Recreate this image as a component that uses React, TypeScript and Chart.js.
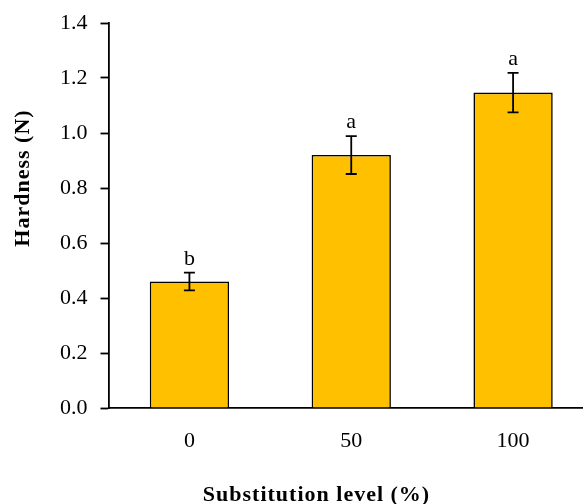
import React, { useEffect, useRef } from "react";
import { Chart, registerables } from "chart.js";

Chart.register(...registerables);

const categories = ["0", "50", "100"];
const hardness = [0.46, 0.92, 1.147];
const errors = [0.032, 0.069, 0.072];
const letters = ["b", "a", "a"];
const yMin = 0;
const yMax = 1.4;
const yStep = 0.2;
const xTitle = "Substitution level (%)";
const yTitle = "Hardness (N)";

const FONT = "'Liberation Serif', 'Times New Roman', serif";

const overlayPlugin = {
  id: "overlay",
  afterDatasetsDraw(chart: any) {
    const ctx = chart.ctx;
    const yScale = chart.scales.y;
    const meta = chart.getDatasetMeta(0);
    ctx.save();
    ctx.strokeStyle = "#000";
    ctx.lineWidth = 1.8;
    ctx.fillStyle = "#000";
    ctx.font = `22px ${FONT}`;
    ctx.textAlign = "center";
    ctx.textBaseline = "alphabetic";
    meta.data.forEach((el: any, i: number) => {
      const v = hardness[i];
      const e = errors[i];
      const x = el.x;
      const yt = yScale.getPixelForValue(v + e);
      const yb = yScale.getPixelForValue(v - e);
      const cap = 5.5;
      ctx.beginPath();
      ctx.moveTo(x, yt);
      ctx.lineTo(x, yb);
      ctx.moveTo(x - cap, yt);
      ctx.lineTo(x + cap, yt);
      ctx.moveTo(x - cap, yb);
      ctx.lineTo(x + cap, yb);
      ctx.stroke();
      ctx.fillText(letters[i], x, yt - 8);
    });
    ctx.restore();
  },
  afterDraw(chart: any) {
    const ctx = chart.ctx;
    const area = chart.chartArea;
    ctx.save();
    ctx.fillStyle = "#000";
    ctx.font = `bold 22px ${FONT}`;
    try {
      (ctx as any).letterSpacing = "1px";
    } catch (e) {}
    ctx.textAlign = "center";
    ctx.textBaseline = "middle";
    ctx.fillText(xTitle, area.left + 208, 495);
    ctx.translate(23, 178);
    ctx.rotate(-Math.PI / 2);
    ctx.fillText(yTitle, 0, 0);
    ctx.restore();
  },
};

export default function App() {
  const ref = useRef<HTMLCanvasElement | null>(null);
  useEffect(() => {
    if (!ref.current) return;
    const chart = new Chart(ref.current, {
      type: "bar",
      data: {
        labels: categories,
        datasets: [
          {
            data: hardness,
            backgroundColor: "#FFC000",
            borderColor: "#000",
            borderWidth: 1.6,
            barPercentage: 0.49,
            categoryPercentage: 1,
          },
        ],
      },
      options: {
        responsive: false,
        animation: false,
        layout: { padding: { top: 23, right: 0, left: 0, bottom: 0 } },
        plugins: {
          legend: { display: false },
          tooltip: { enabled: false },
          title: { display: false },
        },
        scales: {
          x: {
            grid: { display: false, drawTicks: false },
            border: { display: true, color: "#000", width: 1.8 },
            ticks: {
              color: "#000",
              font: { family: FONT, size: 22 },
              padding: 20,
            },
            afterFit(scale: any) {
              scale.height = 96;
              scale.paddingLeft = 0;
              scale.paddingRight = 0;
            },
          },
          y: {
            min: yMin,
            max: yMax,
            grid: {
              drawOnChartArea: false,
              drawTicks: true,
              tickLength: 8,
              tickColor: "#000",
              tickWidth: 1.8,
            },
            border: { display: true, color: "#000", width: 1.8 },
            ticks: {
              stepSize: yStep,
              color: "#000",
              font: { family: FONT, size: 22 },
              padding: 13,
              callback: (v: any) => Number(v).toFixed(1),
            },
            afterFit(scale: any) {
              scale.width = 108.5;
              scale.paddingTop = 0;
              scale.paddingBottom = 0;
            },
          },
        },
      },
      plugins: [overlayPlugin],
    });
    return () => chart.destroy();
  }, []);
  return (
    <div
      style={{
        position: "absolute",
        left: 0,
        top: 0,
        width: 583,
        height: 504,
        overflow: "hidden",
        background: "#fff",
      }}
    >
      <canvas ref={ref} width={594} height={504} style={{ display: "block" }} />
    </div>
  );
}
